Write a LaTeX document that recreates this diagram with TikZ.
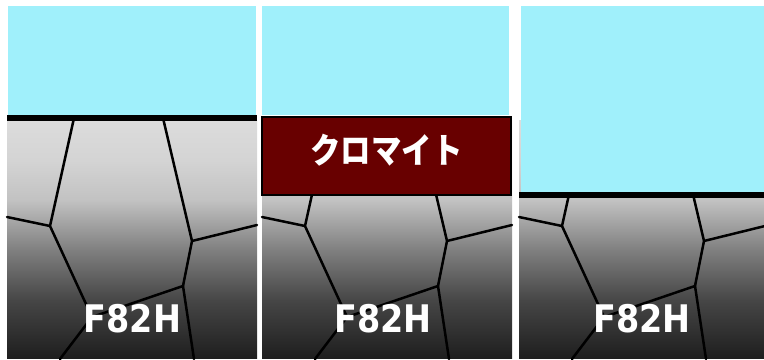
\documentclass[tikz,border=0pt]{standalone}
\usepackage{fontspec}
\newfontfamily\labelfont{DejaVu Sans}
\newfontfamily\jpfont{Noto Sans CJK JP}
\definecolor{seawater}{HTML}{A0F0FB}
\definecolor{chromite}{HTML}{680000}
\definecolor{gA}{HTML}{1E1E1E}
\definecolor{gB}{HTML}{464646}
\definecolor{gC}{HTML}{7F7F7F}
\definecolor{gD}{HTML}{C2C2C2}
\definecolor{gE}{HTML}{D4D4D4}
\definecolor{gF}{HTML}{DCDCDC}
% steel body: light near the surface, dark towards the bottom
\pgfdeclareverticalshading{steel}{100bp}{color(0bp)=(gA); color(25bp)=(gA);
  color(37.2bp)=(gB); color(47.7bp)=(gC); color(58.2bp)=(gD);
  color(66.6bp)=(gE); color(75bp)=(gF); color(100bp)=(gF)}
\tikzset{
  water/.style={fill=seawater},
  metal/.style={shading=steel},
  grain/.style={line width=2.5bp, line cap=round, black},
  surface/.style={line width=5.5bp, black},
  oxide/.style={fill=chromite, draw=black, line width=2bp},
  alloy/.style={text=white, font=\labelfont\bfseries\fontsize{38bp}{40bp}\selectfont, xscale=0.88, inner sep=0pt},
  oxidetext/.style={text=white, font=\jpfont\bfseries\fontsize{35bp}{37bp}\selectfont, xscale=0.87, inner sep=0pt}
}
% steel block with its grain boundaries, 250 wide, top at y=120
\newcommand{\steelblock}{%
  \shade[metal] (7,120) rectangle (257,358.5);
  \coordinate (a0) at (74,118);
  \coordinate (aL) at (7,217);
  \coordinate (aJ) at (50,226);
  \coordinate (jJ) at (92,317);
  \coordinate (jB) at (60,359);
  \coordinate (b0) at (163,118);
  \coordinate (bJ) at (192,241);
  \coordinate (bR) at (257,225);
  \coordinate (cJ) at (183,286);
  \coordinate (cB) at (194,359);
  \draw[grain] (a0) -- (aJ) -- (jJ) -- (jB);
  \draw[grain] (aL) -- (aJ);
  \draw[grain] (jJ) -- (cJ) -- (cB);
  \draw[grain] (b0) -- (bJ) -- (cJ);
  \draw[grain] (bJ) -- (bR);
}
\begin{document}
\begin{tikzpicture}[x=1bp,y=-1bp]
\useasboundingbox (0,0) rectangle (764,359);
\clip (0,0) rectangle (764,359);
% bare steel in water
\begin{scope}
  \steelblock
  \fill[water] (8,6) rectangle (256,115);
  \draw[surface] (7,118) -- (257,118);
  \node[alloy] (alloy1) at (132.5,319) {F82H};
\end{scope}
% steel covered by a chromite layer
\begin{scope}[xshift=255bp]
  \steelblock
  \fill[water] (7,6) rectangle (254,115);
  \draw[oxide] (7,117) rectangle (256,194.5);
  \node[oxidetext] (scale2) at (131.5,150) {クロマイト};
  \node[alloy] (alloy2) at (128,319) {F82H};
\end{scope}
% steel after the surface has dissolved
\begin{scope}[xshift=512bp]
  \steelblock
  \fill[water] (9,6) rectangle (257,193);
  \draw[surface] (7,195) -- (257,195);
  \node[alloy] (alloy3) at (130,319) {F82H};
\end{scope}
\end{tikzpicture}
\end{document}
